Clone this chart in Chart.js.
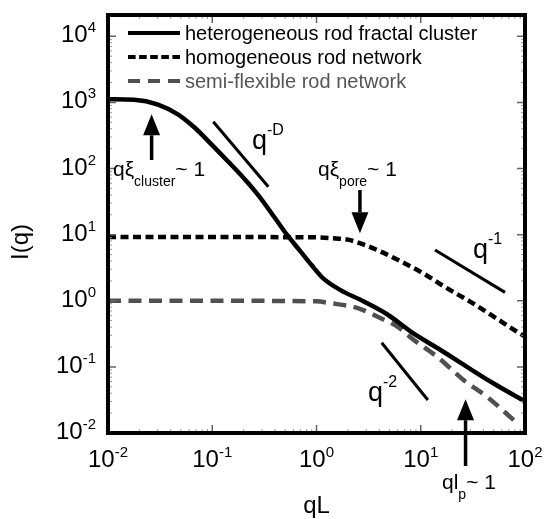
<!DOCTYPE html>
<html>
<head>
<meta charset="utf-8">
<script src="https://cdn.jsdelivr.net/npm/chart.js@4.4.1/dist/chart.umd.min.js"></script>
<style>
html, body { margin: 0; padding: 0; background: #fff; }
#wrap { width: 546px; height: 519px; }
</style>
</head>
<body>
<div id="wrap"><canvas id="chart" width="546" height="519"></canvas></div>
<script>
// values
var seriesNames = ['heterogeneous rod fractal cluster', 'homogeneous rod network', 'semi-flexible rod network'];

var clusterQ = [0.01, 0.0178, 0.0302, 0.0468, 0.0676, 0.0977, 0.141, 0.2, 0.282, 0.398, 0.525, 0.708, 0.891, 1.175, 1.70, 2.82, 4.79, 8.51, 15.5, 27.5, 50.1, 100];
var clusterI = [1120, 1100, 930, 660, 417, 234, 129, 72, 38, 18, 9.8, 5.5, 3.5, 2.14, 1.45, 0.98, 0.62, 0.32, 0.18, 0.101, 0.056, 0.030];

var networkQ = [0.01, 0.1, 1, 1.41, 2.0, 2.82, 4.07, 6.31, 10.7, 17.8, 29.5, 50.1, 83.2, 100];
var networkI = [9.2, 9.2, 9.1, 8.85, 8.4, 7.1, 5.6, 4.0, 2.57, 1.55, 0.98, 0.575, 0.343, 0.288];

var semiQ = [0.01, 0.1, 1, 1.36, 2.45, 4.09, 5.92, 8.53, 14.3, 25.7, 43.1, 81.3];
var semiI = [1.0, 1.0, 0.98, 0.92, 0.78, 0.55, 0.41, 0.257, 0.143, 0.0635, 0.0355, 0.0148];

// power-law guide segments
var slopeDQ = [0.1023, 0.345];
var slopeDI = [510, 53];
var slope1Q = [13.7, 64.3];
var slope1I = [5.86, 1.34];
var slope2Q = [4.22, 11.7];
var slope2I = [0.232, 0.0315];

var xTickExponents = [-2, -1, 0, 1, 2];
var yTickExponents = [-2, -1, 0, 1, 2, 3, 4];

var sansFont = '"Liberation Sans", Arial, sans-serif';
var grey = '#505050';

function points(xs, ys) {
    return xs.map(function(x, i) { return {x: x, y: ys[i]}; });
}

// annotations placed in data coordinates
var arrows = [
    {q: 0.0262, from: 134.6, to: 661},
    {q: 2.61, from: 47.3, to: 10.5},
    {q: 26.9, from: 0.00317, to: 0.0324}
];
var notes = [
    {q: 0.01117, i: 77.1, parts: [['q\u03be', 21, 0], ['cluster', 14, 10], ['~ 1', 21, 0]]},
    {q: 1.034, i: 77.1, parts: [['q\u03be', 21, 0], ['pore', 14, 10], ['~ 1', 21, 0]]},
    {q: 0.2404, i: 197, parts: [['q', 27, 0], ['-D', 16, -14]]},
    {q: 31.7, i: 4.36, parts: [['q', 27, 0], ['-1', 16, -14]]},
    {q: 3.12, i: 0.031, parts: [['q', 27, 0], ['-2', 16, -14]]},
    {q: 16.0, i: 0.00142, parts: [['ql', 21, 0], ['p', 14, 10], ['~ 1', 21, 0]]}
];

function richWidth(ctx, parts) {
    var w = 0;
    parts.forEach(function(p) {
        ctx.font = p[1] + 'px ' + sansFont;
        w += ctx.measureText(p[0]).width;
    });
    return w;
}

function drawRich(ctx, parts, x, y) {
    ctx.textAlign = 'left';
    ctx.textBaseline = 'alphabetic';
    parts.forEach(function(p) {
        ctx.font = p[1] + 'px ' + sansFont;
        ctx.fillText(p[0], x, y + p[2]);
        x += ctx.measureText(p[0]).width;
    });
}

function drawArrow(ctx, x, y0, y1) {
    var dir = y1 > y0 ? 1 : -1;
    var headLen = 21, headW = 8.5;
    ctx.lineWidth = 3.5;
    ctx.beginPath();
    ctx.moveTo(x, y0);
    ctx.lineTo(x, y1 - dir * headLen);
    ctx.stroke();
    ctx.beginPath();
    ctx.moveTo(x, y1);
    ctx.lineTo(x - headW, y1 - dir * headLen);
    ctx.lineTo(x + headW, y1 - dir * headLen);
    ctx.closePath();
    ctx.fill();
}

var framePlugin = {
    id: 'frame',
    beforeDraw: function(chart) {
        var ctx = chart.ctx;
        ctx.save();
        ctx.fillStyle = '#fff';
        ctx.fillRect(0, 0, chart.width, chart.height);
        ctx.restore();
    },
    afterDraw: function(chart) {
        var ctx = chart.ctx;
        var area = chart.chartArea;
        var xs = chart.scales.x, ys = chart.scales.y;
        ctx.save();

        // inward ticks on all four sides
        function ticks(scale, lo, hi, horiz) {
            for (var d = Math.floor(Math.log10(lo)); d <= Math.ceil(Math.log10(hi)); d++) {
                for (var m = 1; m <= 9; m++) {
                    var v = m * Math.pow(10, d);
                    if (v < lo * 0.999 || v > hi * 1.001) continue;
                    var p = scale.getPixelForValue(v);
                    var len = m === 1 ? 8 : 4;
                    ctx.strokeStyle = m === 1 ? '#666' : '#999';
                    ctx.lineWidth = m === 1 ? 1.5 : 1;
                    ctx.beginPath();
                    if (horiz) {
                        ctx.moveTo(p, area.bottom); ctx.lineTo(p, area.bottom - len);
                        ctx.moveTo(p, area.top); ctx.lineTo(p, area.top + len);
                    } else {
                        ctx.moveTo(area.left, p); ctx.lineTo(area.left + len, p);
                        ctx.moveTo(area.right, p); ctx.lineTo(area.right - len, p);
                    }
                    ctx.stroke();
                }
            }
        }
        ticks(xs, xs.min, xs.max, true);
        ticks(ys, ys.min, ys.max, false);

        // frame
        ctx.strokeStyle = '#000';
        ctx.lineWidth = 4;
        ctx.strokeRect(area.left, area.top, area.right - area.left, area.bottom - area.top);

        // tick labels
        ctx.fillStyle = '#000';
        xTickExponents.forEach(function(e) {
            var parts = [['10', 24, 0], [String(e), 15, -10]];
            var px = xs.getPixelForValue(Math.pow(10, e));
            drawRich(ctx, parts, px - richWidth(ctx, parts) / 2, area.bottom + 34);
        });
        yTickExponents.forEach(function(e) {
            var parts = [['10', 24, 0], [String(e), 15, -10]];
            var py = ys.getPixelForValue(Math.pow(10, e));
            drawRich(ctx, parts, area.left - 12 - richWidth(ctx, parts), py + 6);
        });

        // axis titles
        ctx.font = '24px ' + sansFont;
        ctx.textAlign = 'center';
        ctx.textBaseline = 'alphabetic';
        ctx.fillText('qL', (area.left + area.right) / 2, 513);
        ctx.save();
        ctx.translate(21, 242);
        ctx.rotate(-Math.PI / 2);
        ctx.textBaseline = 'middle';
        ctx.fillText('I(q)', 0, 0);
        ctx.restore();

        // legend
        var legendDash = [[], [7.6, 3.5], [12, 8]];
        var legendColor = ['#000', '#000', grey];
        seriesNames.forEach(function(name, k) {
            var y = area.top + 18 + k * 24;
            ctx.strokeStyle = legendColor[k];
            ctx.lineWidth = 4;
            ctx.setLineDash(legendDash[k]);
            ctx.beginPath();
            ctx.moveTo(area.left + 20, y);
            ctx.lineTo(area.left + 72, y);
            ctx.stroke();
            ctx.setLineDash([]);
            ctx.fillStyle = k === 2 ? '#555' : '#000';
            ctx.font = '20px ' + sansFont;
            ctx.textAlign = 'left';
            ctx.textBaseline = 'middle';
            ctx.fillText(name, area.left + 77, y + 1);
        });

        // arrows and notes
        ctx.fillStyle = '#000';
        ctx.strokeStyle = '#000';
        arrows.forEach(function(a) {
            drawArrow(ctx, xs.getPixelForValue(a.q), ys.getPixelForValue(a.from), ys.getPixelForValue(a.to));
        });
        notes.forEach(function(n) {
            drawRich(ctx, n.parts, xs.getPixelForValue(n.q), ys.getPixelForValue(n.i));
        });
        ctx.restore();
    }
};

function curve(xs, ys, color, dash) {
    return {
        data: points(xs, ys),
        borderColor: color,
        borderWidth: 4.5,
        borderDash: dash,
        cubicInterpolationMode: 'monotone',
        pointRadius: 0,
        fill: false
    };
}

function guide(xs, ys) {
    return {
        data: points(xs, ys),
        borderColor: '#000',
        borderWidth: 3,
        pointRadius: 0,
        fill: false
    };
}

new Chart(document.getElementById('chart'), {
    type: 'line',
    data: {
        datasets: [
            curve(clusterQ, clusterI, '#000', []),
            curve(networkQ, networkI, '#000', [8, 4.5]),
            curve(semiQ, semiI, grey, [13, 7.5]),
            guide(slopeDQ, slopeDI),
            guide(slope1Q, slope1I),
            guide(slope2Q, slope2I)
        ]
    },
    options: {
        responsive: false,
        animation: false,
        layout: { padding: { left: 108, top: 15, right: 21, bottom: 86 } },
        scales: {
            x: { type: 'logarithmic', min: 0.01, max: 100, display: false },
            y: { type: 'logarithmic', min: 0.01, max: 21000, display: false }
        },
        plugins: { legend: { display: false }, tooltip: { enabled: false } }
    },
    plugins: [framePlugin]
});
</script>
</body>
</html>
